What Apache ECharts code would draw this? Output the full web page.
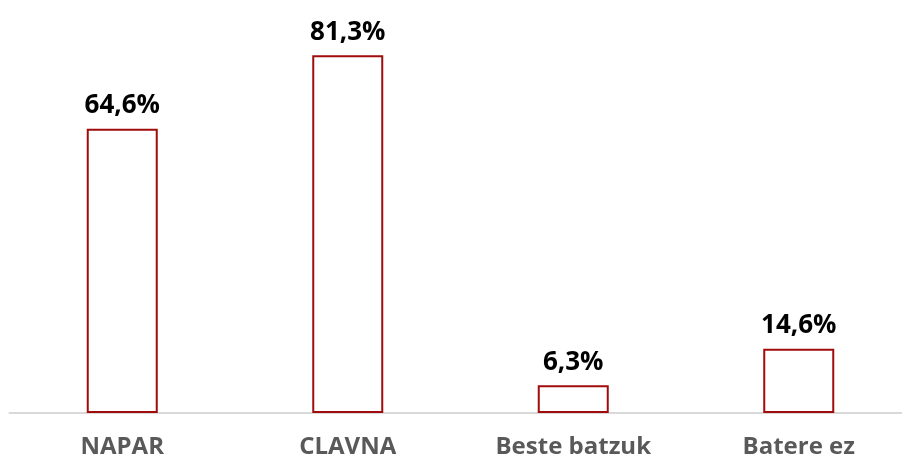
<!DOCTYPE html>
<html>
<head>
<meta charset="utf-8">
<script src="https://cdn.jsdelivr.net/npm/echarts@6/dist/echarts.min.js"></script>
<style>
  html, body { margin: 0; padding: 0; background: #fff; }
  #main { width: 902px; height: 461px; }
</style>
</head>
<body>
<div id="main"></div>
<script>
    var categories = ['NAPAR', 'CLAVNA', 'Beste batzuk', 'Batere ez'];
    var values = [64.6, 81.3, 6.3, 14.6];

    var myChart = echarts.init(document.getElementById('main'));

    var option = {
        animation: false,
        grid: { left: 9.5, width: 902, top: 17, bottom: 48, outerBoundsMode: 'none' },
        xAxis: {
            type: 'category',
            data: categories,
            axisTick: { show: false },
            axisLine: { lineStyle: { color: '#d9d9d9', width: 2 } },
            axisLabel: {
                color: '#595959',
                fontFamily: 'Open Sans',
                fontWeight: 'bold',
                fontSize: 24,
                margin: 22
            }
        },
        yAxis: {
            type: 'value',
            min: 0,
            max: 90,
            show: false,
            splitLine: { show: false }
        },
        series: [{
            type: 'bar',
            data: values,
            barWidth: 71,
            itemStyle: {
                color: '#ffffff',
                borderColor: '#a00c0c',
                borderWidth: 2
            },
            label: {
                show: true,
                position: 'top',
                distance: 10,
                color: '#000',
                fontFamily: 'Open Sans',
                fontWeight: 'bold',
                fontSize: 26,
                formatter: function (p) {
                    return p.value.toFixed(1).replace('.', ',') + '%';
                }
            }
        }]
    };

    myChart.setOption(option);
</script>
</body>
</html>
